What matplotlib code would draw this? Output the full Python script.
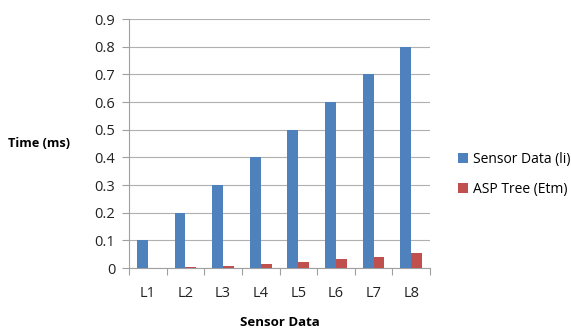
import matplotlib
matplotlib.use("Agg")
import matplotlib.pyplot as plt
import numpy as np

categories = ["L1", "L2", "L3", "L4", "L5", "L6", "L7", "L8"]
sensor_data = [0.1, 0.2, 0.3, 0.4, 0.5, 0.6, 0.7, 0.8]
asp_tree = [0.0, 0.003, 0.009, 0.015, 0.022, 0.033, 0.041, 0.054]
series_names = ["Sensor Data (li)", "ASP Tree (Etm)"]

plt.rcParams['font.family'] = ['Open Sans', 'DejaVu Sans']

fig = plt.figure(figsize=(5.71, 3.29), dpi=100)
ax = fig.add_axes([0.226, 0.185, 0.527, 0.757])

x = np.arange(len(categories))
w = 0.29
ax.bar(x - w/2, sensor_data, w, color="#4F81BD", label=series_names[0], zorder=3)
ax.bar(x + w/2, asp_tree, w, color="#C0504D", label=series_names[1], zorder=3)

ax.set_xlim(-0.5, len(categories) - 0.5)
ax.set_ylim(0, 0.9)
ax.set_yticks(np.arange(0, 0.91, 0.1))
ax.set_yticklabels(["0"] + [f"{v:.1f}" for v in np.arange(0.1, 0.91, 0.1)])
ax.yaxis.grid(True, color="#b0b0b0", linewidth=0.8, zorder=0)
ax.set_xticks(x)
ax.set_xticklabels(categories)
ax.set_xticks(np.arange(-0.5, len(categories), 1), minor=True)
ax.tick_params(axis='x', which='major', length=0, pad=13, labelsize=10.5, colors='#222222')
ax.tick_params(axis='x', which='minor', length=5, color='#a0a0a0', width=0.8)
ax.tick_params(axis='y', length=5, color='#a0a0a0', width=0.8, labelsize=10.5, colors='#222222', pad=5)
ax.tick_params(axis='y', direction='out')

for s in ['top', 'right']:
    ax.spines[s].set_visible(False)
for s in ['left', 'bottom']:
    ax.spines[s].set_color('#a0a0a0')
    ax.spines[s].set_linewidth(0.8)

ax.set_xlabel("Sensor Data", fontweight='bold', fontsize=9.5, labelpad=11)
fig.text(0.014, 0.565, "Time (ms)", fontweight='bold', fontsize=9.2, va='center', ha='left')

leg = fig.legend(loc='center left', bbox_to_anchor=(0.78, 0.47), frameon=False,
                 fontsize=10, handlelength=0.7, handleheight=0.7, labelspacing=1.1,
                 handletextpad=0.4)

fig.savefig("out.png", dpi=100)
